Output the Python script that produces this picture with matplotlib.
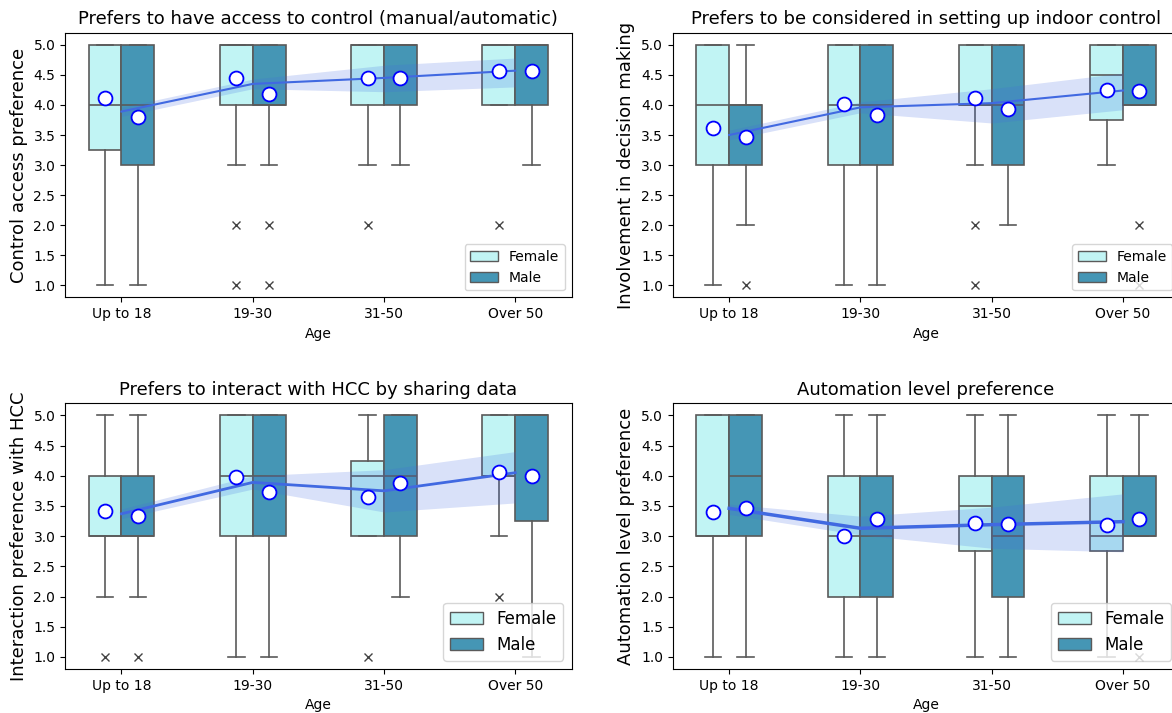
import matplotlib
matplotlib.use("Agg")
import matplotlib.pyplot as plt
from matplotlib.patches import Patch

ages = ["Up to 18", "19-30", "31-50", "Over 50"]
genders = ["Female", "Male"]

# box stats per age group: (whislo, q1, med, q3, whishi)
access_f = [(1, 3.25, 4, 5, 5), (3, 4, 5, 5, 5), (3, 4, 5, 5, 5), (4, 4, 5, 5, 5)]
access_m = [(1, 3, 4, 5, 5), (3, 4, 4, 5, 5), (3, 4, 5, 5, 5), (3, 4, 5, 5, 5)]
access_fliers_f = [[], [2, 1], [2], [2]]
access_fliers_m = [[], [2, 1], [], []]
access_mean_f = [4.12, 4.44, 4.45, 4.57]
access_mean_m = [3.80, 4.19, 4.44, 4.57]
access_line = [3.89, 4.35, 4.45, 4.57]
access_lo = [3.81, 4.27, 4.22, 4.30]
access_hi = [3.96, 4.43, 4.66, 4.78]

involve_f = [(1, 3, 4, 5, 5), (1, 3, 4, 5, 5), (3, 4, 4, 5, 5), (3, 3.75, 4.5, 5, 5)]
involve_m = [(2, 3, 4, 4, 5), (1, 3, 4, 5, 5), (2, 3, 4, 5, 5), (4, 4, 4, 5, 5)]
involve_fliers_f = [[], [], [2, 1], []]
involve_fliers_m = [[1], [], [], [2, 1]]
involve_mean_f = [3.61, 4.02, 4.11, 4.25]
involve_mean_m = [3.46, 3.83, 3.93, 4.23]
involve_line = [3.50, 3.96, 4.03, 4.24]
involve_lo = [3.42, 3.87, 3.70, 3.92]
involve_hi = [3.58, 4.05, 4.27, 4.53]

interact_f = [(2, 3, 3, 4, 5), (1, 3, 4, 5, 5), (3, 3, 4, 4.25, 5), (3, 4, 4, 5, 5)]
interact_m = [(2, 3, 3, 4, 5), (1, 3, 4, 5, 5), (2, 3, 4, 5, 5), (1, 3.25, 5, 5, 5)]
interact_fliers_f = [[1], [], [1], [2]]
interact_fliers_m = [[1], [], [], []]
interact_mean_f = [3.42, 3.98, 3.65, 4.06]
interact_mean_m = [3.34, 3.73, 3.88, 3.99]
interact_line = [3.37, 3.89, 3.75, 4.05]
interact_lo = [3.29, 3.78, 3.40, 3.55]
interact_hi = [3.45, 4.00, 4.10, 4.40]

auto_f = [(1, 3, 3, 5, 5), (1, 2, 3, 4, 5), (1, 2.75, 3.5, 4, 5), (1, 2.75, 3, 4, 5)]
auto_m = [(1, 3, 4, 5, 5), (1, 2, 3, 4, 5), (1, 2, 3, 4, 5), (3, 3, 3, 4, 5)]
auto_fliers_f = [[], [], [], []]
auto_fliers_m = [[], [], [], [1]]
auto_mean_f = [3.40, 3.01, 3.21, 3.19]
auto_mean_m = [3.47, 3.28, 3.20, 3.28]
auto_line = [3.46, 3.13, 3.19, 3.24]
auto_lo = [3.36, 3.02, 2.80, 2.74]
auto_hi = [3.53, 3.33, 3.48, 3.70]

titles = [
    "Prefers to have access to control (manual/automatic)",
    "Prefers to be considered in setting up indoor control",
    "Prefers to interact with HCC by sharing data",
    "Automation level preference",
]
ylabels = [
    "Control access preference",
    "Involvement in decision making",
    "Interaction preference with HCC",
    "Automation level preference",
]

FEMALE_C = "#c1f4f4"
MALE_C = "#4596b5"
EDGE_C = "#5a5a5a"
LINE_C = "#4169e1"


def box_stats(stats, fliers, means):
    out = []
    for (lo, q1, med, q3, hi), fl, mn in zip(stats, fliers, means):
        out.append(dict(whislo=lo, q1=q1, med=med, q3=q3, whishi=hi,
                        fliers=fl, mean=mn))
    return out


def draw_panel(ax, f_stats, m_stats, f_fl, m_fl, f_mean, m_mean,
               line, lo, hi, title, ylabel, lw, legend_size):
    xs = list(range(len(ages)))
    for stats, fl, mn, off, col in [
        (f_stats, f_fl, f_mean, -0.125, FEMALE_C),
        (m_stats, m_fl, m_mean, 0.125, MALE_C),
    ]:
        ax.bxp(box_stats(stats, fl, mn), positions=[x + off for x in xs],
               widths=0.25, capwidths=0.125, patch_artist=True,
               manage_ticks=False,
               boxprops=dict(facecolor=col, edgecolor=EDGE_C, linewidth=1.2),
               medianprops=dict(color=EDGE_C, linewidth=1.2),
               whiskerprops=dict(color=EDGE_C, linewidth=1.2),
               capprops=dict(color=EDGE_C, linewidth=1.2),
               flierprops=dict(marker="x", markeredgecolor="#444444",
                               markersize=6, linestyle="none"))
    ax.fill_between(xs, lo, hi, color=LINE_C, alpha=0.2, linewidth=0, zorder=3)
    ax.plot(xs, line, color=LINE_C, linewidth=lw, zorder=4)
    ax.plot([x - 0.125 for x in xs], f_mean, "o", markerfacecolor="white",
            markeredgecolor="blue", markersize=10, markeredgewidth=1.3, zorder=5)
    ax.plot([x + 0.125 for x in xs], m_mean, "o", markerfacecolor="white",
            markeredgecolor="blue", markersize=10, markeredgewidth=1.3, zorder=5)

    ax.set_xlim(-0.43, 3.43)
    ax.set_ylim(0.8, 5.2)
    ax.set_xticks(xs)
    ax.set_xticklabels(ages)
    ax.set_yticks([1.0, 1.5, 2.0, 2.5, 3.0, 3.5, 4.0, 4.5, 5.0])
    ax.set_title(title, fontsize=13)
    ax.set_ylabel(ylabel, fontsize=13)
    ax.set_xlabel("Age", fontsize=10)
    handles = [Patch(facecolor=FEMALE_C, edgecolor=EDGE_C, label=genders[0]),
               Patch(facecolor=MALE_C, edgecolor=EDGE_C, label=genders[1])]
    ax.legend(handles=handles, loc="lower right", fontsize=legend_size)


fig = plt.figure(figsize=(11.72, 7.13), dpi=100)
ax1 = fig.add_axes([0.0555, 0.583, 0.4323, 0.371])
ax2 = fig.add_axes([0.574, 0.583, 0.4323, 0.371])
ax3 = fig.add_axes([0.0555, 0.0617, 0.4323, 0.3727])
ax4 = fig.add_axes([0.574, 0.0617, 0.4323, 0.3727])

draw_panel(ax1, access_f, access_m, access_fliers_f, access_fliers_m,
           access_mean_f, access_mean_m, access_line, access_lo, access_hi,
           titles[0], ylabels[0], 1.5, 10)
draw_panel(ax2, involve_f, involve_m, involve_fliers_f, involve_fliers_m,
           involve_mean_f, involve_mean_m, involve_line, involve_lo, involve_hi,
           titles[1], ylabels[1], 1.5, 10)
draw_panel(ax3, interact_f, interact_m, interact_fliers_f, interact_fliers_m,
           interact_mean_f, interact_mean_m, interact_line, interact_lo,
           interact_hi, titles[2], ylabels[2], 2.0, 12)
draw_panel(ax4, auto_f, auto_m, auto_fliers_f, auto_fliers_m,
           auto_mean_f, auto_mean_m, auto_line, auto_lo, auto_hi,
           titles[3], ylabels[3], 2.5, 12)

fig.savefig("out.png", dpi=100)
